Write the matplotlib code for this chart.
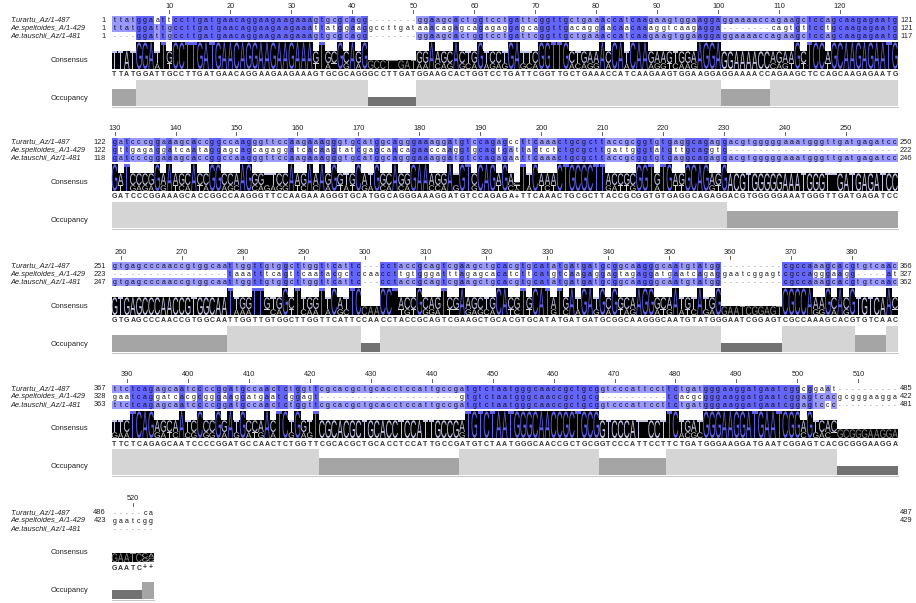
import matplotlib
matplotlib.use("Agg")
import matplotlib.pyplot as plt
from matplotlib.patches import Rectangle, PathPatch
from matplotlib.textpath import TextPath
from matplotlib.font_manager import FontProperties
from matplotlib.transforms import Affine2D
from collections import Counter

# --- alignment data (one string per block of 129 columns) ---
names = ["T.urartu_Az/1-487", "Ae.speltoides_A/1-429", "Ae.tauschii_Az/1-481"]

urartu_blocks = [
    "ttatggaattccttgatgaacaggaagaagaaagtgcgcagg" + "--------"
    + "ggaagcactggtcctgattcggttgctgaaaccatcaagaagtggaaggaggaaaaccagaagctccagcaagagaatg",
    "gatcccggaaagcaccggccaagggttccaagaaagggtgcatggcagggaaaggatgtccagagccttcaaactgcgct"
    + "taccgcggtgtgaggcagaggacgtgggggaaatgggttgatgagatcc",
    "gtgagcccaaccgtggcaattggttgtggcttggttcattc" + "---"
    + "cctaccgcagtcgaagctgcacgtgcatatgatgatgcggcaagggcaatgtatgg" + "----------"
    + "cgccaaagcacgtgtcaac",
    "ttctcagagcaatccccggatgccaactctggttc" + "gcacgctgcacctccattgccgatgtctaatgggcaaccgctgcg"
    + "gtcccattccttctgatgggaaggatgaatcgg" + "cggaat" + "----------",
    "-----ca",
]
speltoides_blocks = [
    "ttatggattgccttgatgaacaggaagaagaaat" + "tatggaag" + "gccttgat"
    + "aaacagagcagagaggagcaggttgacaggaaca" + "acaaaggtcaagagga" + "--------"
    + "cagtgttcctgcaagagaatg",
    "gttgagaggatcaataggagcagcagaggatcaca" + "agtatcgagcaacagaaccaaggtgcagtgattactctctgcgct"
    + "tgattgggtatgttgcaggtg" + "-" * 28,
    "-" * 19 + "taaatttcagttcaa" + "tacgctccaa" + "ccttgtgggatttagagcacatcttcatgtcaagag"
    + "gagtagaggatgaatcagag" + "gaatcggagt" + "cgccagggaagg" + "-----" + "at",
    "gaatcaggatcacgcgggaaggatgaatcggagt" + "-" * 23 + "gtgtctaatgggcaaccgctgcg"
    + "-" * 11 + "tcacgc" + "gggaaggatgaatcgg" + "agtcacgcgggaagga",
    "gaatcgg",
]
tauschii_blocks = [
    "----ggattgccttgatgaacaggaagaagaaag" + "tgcgcagg" + "--------"
    + "ggaagcactggtcctgattcggttgctgaaaccatcaagaagtggaaggaggaaaaccagaagctccagcaagagaatg",
    "gatcccggaaagcaccggccaagggttccaagaaagggtgcatggcagggaaaggatgtccagagaattcaaactgcgct"
    + "taccgcggtgtgaggcagaggacgtgggggaaatgggttgatgagatcc",
    "gtgagcccaaccgtggcaattggttgtggcttggttcattc" + "---"
    + "cctaccgcagtcgaagctgcacgtgcatatgatgatgcggcaagggcaatgtatgg" + "----------"
    + "cgccaaagcacgtgtcaac",
    "ttctcagagcaatccccggatgccaactctggttc" + "gcacgctgcacctccattgccgatgtctaatgggcaaccgctgcg"
    + "gtcccattccttctgatgggaaggatgaatcgg" + "agtccc" + "----------",
    "-------",
]

block_starts = [1, 130, 259, 388, 517]
block_tops = [6, 128, 252, 375, 499]

seqs = ["".join(urartu_blocks), "".join(speltoides_blocks), "".join(tauschii_blocks)]
ncol = max(len(s) for s in seqs)
seqs = [s.ljust(ncol, "-") for s in seqs]
nseq = len(seqs)

# --- layout ---
x0, cw = 111.5, 6.097
fig = plt.figure(figsize=(9.16, 6.03), dpi=100)
ax = fig.add_axes([0, 0, 1, 1])
ax.set_xlim(0, 916)
ax.set_ylim(603, 0)
ax.axis("off")

FONT = "Liberation Sans"
fp = FontProperties(family=FONT)


def letter(ch, x, ybot, w, h, color):
    # draw one logo letter stretched into a w x h box
    if h <= 0.3:
        return
    tp = TextPath((0, 0), ch, size=10, prop=fp)
    bb = tp.get_extents()
    tr = Affine2D().translate(-bb.x0, -bb.y0).scale(w / bb.width, -h / bb.height).translate(x, ybot)
    ax.add_patch(PathPatch(tr.transform_path(tp), facecolor=color, edgecolor="none", lw=0))


# per-column statistics
cols = []
for i in range(ncol):
    res = [s[i] for s in seqs if s[i] != "-"]
    ranked = Counter(r.upper() for r in res).most_common()
    top, topn = ranked[0]
    tie = len(ranked) > 1 and ranked[1][1] == topn
    cols.append((res, ranked, top, topn, tie))


def pid_colour(frac):
    if frac > 0.8:
        return "#6464FF"
    if frac > 0.6:
        return "#9999FF"
    if frac > 0.4:
        return "#CCCCFF"
    return None


occ_colours = {3: "#D5D5D5", 2: "#A5A5A5", 1: "#727272"}
H_LOGO = 27
H_OCC = 26

for b, st in enumerate(block_starts):
    r = block_tops[b]
    end = min(st + 128, ncol)
    rows_y = [r + 14, r + 22, r + 30]
    band_bot = r + 63
    occ_bot = r + 100

    # ruler
    for c in range(st, end + 1):
        if c % 10 == 0:
            xc = x0 + (c - st) * cw + cw / 2
            ax.text(xc, r, str(c), ha="center", va="center", fontsize=5.3, family=FONT, color="#222222")
            ax.plot([xc, xc], [r + 4, r + 6.5], color="#444444", lw=0.6)

    # sequence rows
    for k in range(nseq):
        y = rows_y[k]
        ax.text(10, y, names[k], ha="left", va="center", fontsize=5.4, family=FONT,
                style="italic", color="#222222")
        seg = seqs[k][st - 1:end]
        nres = sum(1 for c in seg if c != "-")
        before = sum(1 for c in seqs[k][:st - 1] if c != "-")
        if nres > 0:
            ax.text(106, y, str(before + 1), ha="right", va="center", fontsize=5.4, family=FONT, color="#222222")
            ax.text(900, y, str(before + nres), ha="left", va="center", fontsize=5.4, family=FONT, color="#222222")
        for j, ch in enumerate(seg):
            i = st - 1 + j
            xl = x0 + j * cw
            res, ranked, top, topn, tie = cols[i]
            if ch != "-" and ch.upper() == top and not tie:
                colr = pid_colour(topn / nseq)
                if colr:
                    ax.add_patch(Rectangle((xl, y - 4), cw, 8, facecolor=colr, edgecolor="none"))
            ax.text(xl + cw / 2, y + 0.3, ch, ha="center", va="center",
                    fontsize=5.0 if ch != "-" else 4.0, family=FONT,
                    color="#111111" if ch != "-" else "#555555")

    # consensus logo, consensus text, occupancy
    ax.text(88, r + 54, "Consensus", ha="right", va="center", fontsize=5.4, family=FONT, color="#222222")
    ax.text(88, r + 92, "Occupancy", ha="right", va="center", fontsize=5.4, family=FONT, color="#222222")
    for j in range(end - st + 1):
        i = st - 1 + j
        xl = x0 + j * cw
        res, ranked, top, topn, tie = cols[i]
        frac = topn / nseq
        bar_h = H_LOGO * frac
        ax.add_patch(Rectangle((xl, band_bot - bar_h), cw, bar_h, facecolor="black", edgecolor="none"))
        total = len(res)
        ytop = band_bot - bar_h
        for n_i, (ch, n) in enumerate(ranked):
            h = bar_h * n / total
            if n_i == 0 and not tie:
                colr = "#6060EE" if frac > 0.8 else ("#C4C4E4" if frac > 0.6 else "#8E8E8E")
            else:
                colr = "#D2D2D2"
            letter(ch, xl + 0.25, ytop + h, cw - 0.5, h - 0.3, colr)
            ytop += h
        ax.text(xl + cw / 2, r + 69, "+" if tie else top, ha="center", va="center", fontsize=5.0,
                family=FONT, weight="bold", color="#333333")
        occ_h = H_OCC * total / nseq
        ax.add_patch(Rectangle((xl, occ_bot - occ_h), cw, occ_h,
                               facecolor=occ_colours[total], edgecolor="none"))
    ax.plot([x0, x0 + (end - st + 1) * cw], [occ_bot + 0.5, occ_bot + 0.5], color="#C4C4C4", lw=0.7)

fig.savefig("out.png", dpi=100, facecolor="white")
